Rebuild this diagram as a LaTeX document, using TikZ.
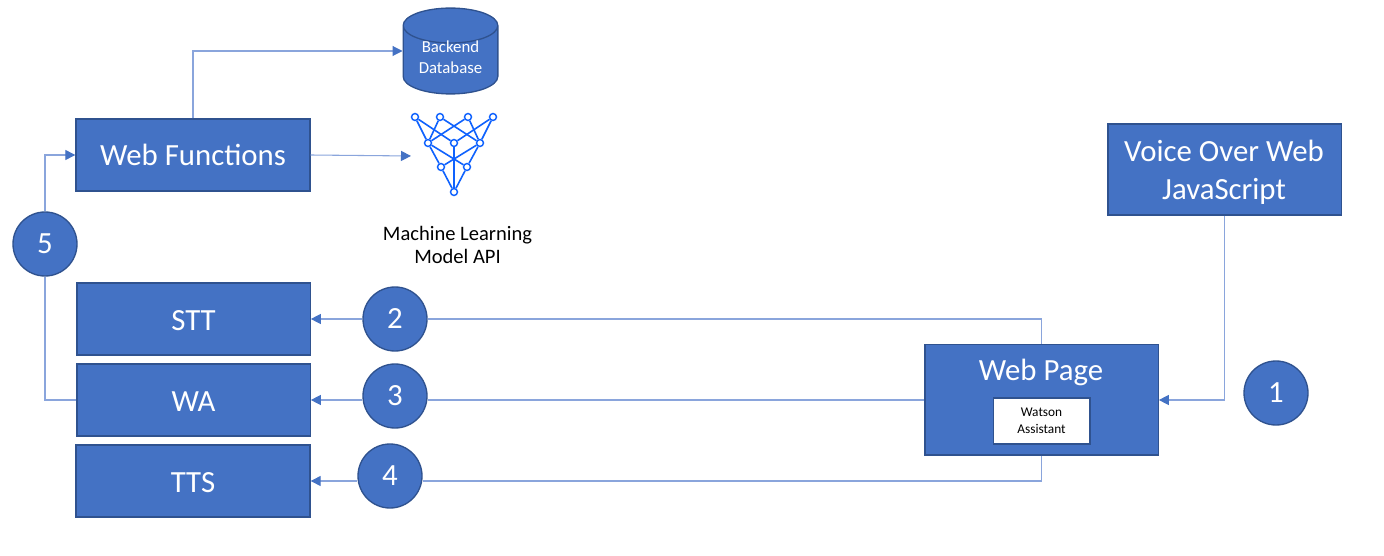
\documentclass[tikz,border=0pt]{standalone}
\usepackage{fontspec}
\setmainfont{Carlito}
\usetikzlibrary{arrows.meta,shapes.geometric}
\definecolor{bfill}{HTML}{4472C4}
\definecolor{bedge}{HTML}{2F528F}
\definecolor{bline}{HTML}{8AA5DC}
\definecolor{nnblue}{HTML}{0F62FE}
\tikzset{
  x=0.75pt,y=-0.75pt,
  bluebox/.style={draw=bedge,line width=1pt,fill=bfill,text=white,inner sep=0pt,align=center,font=\fontsize{23.1}{28.5}\selectfont},
  lowered/.style={text height=19pt,text depth=1.4pt},
  whitelabel/.style={text=white,inner sep=0pt,align=center},
  numcircle/.style={circle,draw=bedge,line width=1pt,fill=bfill,text=white,inner sep=0pt,minimum size=48pt,font=\fontsize{23.1}{28.5}\selectfont},
  conn/.style={draw=bline,line width=0.8pt},
  arrowconn/.style={conn,-{Triangle[length=7.5pt,width=7.5pt,color=bfill]}},
  nnnode/.style={circle,draw=nnblue,fill=white,line width=1.1pt,inner sep=0pt,minimum size=5.2pt},
  nnedge/.style={draw=nnblue,line width=1.2pt},
}
\begin{document}
\begin{tikzpicture}
\useasboundingbox (0,0) rectangle (1384,556);
\fill[white] (0,0) rectangle (1384,556);
% boxes
\node[bluebox,minimum width=175.5pt,minimum height=54pt] (wf) at (193,155) {Web Functions};
\node[bluebox,minimum width=175pt,minimum height=68pt] (voice) at (1224.5,169.5) {};
\node[whitelabel,font=\fontsize{23.1}{28.5}\selectfont] (voicelabel) at (1224,172) {Voice Over Web\\JavaScript};
\node[bluebox,lowered,minimum width=175pt,minimum height=54pt] (stt) at (193.5,319) {STT};
\node[bluebox,lowered,minimum width=175pt,minimum height=54pt] (wa) at (193.5,400) {WA};
\node[bluebox,lowered,minimum width=175.5pt,minimum height=54pt] (tts) at (193,481) {TTS};
\node[bluebox,minimum width=175pt,minimum height=83pt] (page) at (1041.5,399.5) {};
\node[whitelabel,font=\fontsize{23.1}{28.5}\selectfont] (pagelabel) at (1041,372) {Web Page};
\node[draw=bedge,line width=1pt,fill=white,minimum width=72.5pt,minimum height=34.5pt,inner sep=0pt,align=center,font=\fontsize{10}{12.5}\selectfont] (watson) at (1041.5,421) {Watson\\Assistant};
% circles
\node[numcircle] (c5) at (45,244) {5};
\node[numcircle] (c2) at (395,319) {2};
\node[numcircle] (c3) at (395,396) {3};
\node[numcircle] (c4) at (390,476) {4};
\node[numcircle] (c1) at (1276,393) {1};
% database
\node[cylinder,shape border rotate=90,aspect=0.55,draw=bedge,line width=1pt,fill=bfill,inner sep=0pt,minimum width=71pt,minimum height=63pt,align=center,font=\fontsize{12.6}{15.75}\selectfont,anchor=shape center] (db) at (450.5,51) {\phantom{Backend}\\\phantom{Database}};
\node[whitelabel,font=\fontsize{12.6}{15.75}\selectfont] (dblabel) at (450.5,57.5) {Backend\\Database};
% neural icon
\node[nnnode] (t1) at (415,117) {};
\node[nnnode] (t2) at (440,117) {};
\node[nnnode] (t3) at (468,117) {};
\node[nnnode] (t4) at (493,117) {};
\node[nnnode] (m1) at (428,143) {};
\node[nnnode] (m2) at (454,143) {};
\node[nnnode] (m3) at (480,143) {};
\node[nnnode] (l1) at (441,167) {};
\node[nnnode] (l2) at (467,167) {};
\node[nnnode] (b) at (454,192) {};
\foreach \a/\b in {t1/m1,t1/m2,t2/m1,t2/m3,t3/m1,t3/m3,t4/m2,t4/m3,m1/l1,m1/l2,m3/l1,m3/l2,m2/b,l1/b,l2/b}
  \draw[nnedge] (\a) -- (\b);
\coordinate (iconin) at (411,156);
\node[font=\fontsize{15.4}{17.3}\selectfont,align=center,inner sep=0pt] (ml) at (457.5,245) {Machine Learning\\Model API};
% connectors
\draw[conn] (wa.west) -| (c5.south);
\draw[arrowconn] (c5.north) |- (wf.west);
\draw[arrowconn] (wf.north) |- (db.west |- db.shape center);
\draw[arrowconn] (wf.east) -- (iconin);
\draw[conn] (page.north) |- (c2.east |- stt);
\draw[arrowconn] (c2.west |- stt) -- (stt.east);
\draw[conn] (page.west |- wa) -- (c3.east |- wa);
\draw[arrowconn] (c3.west |- wa) -- (wa.east);
\draw[conn] (page.south) |- (c4.east |- tts);
\draw[arrowconn] (c4.west |- tts) -- (tts.east);
\draw[arrowconn] (voice.south) |- (page.east |- wa);
\end{tikzpicture}
\end{document}
